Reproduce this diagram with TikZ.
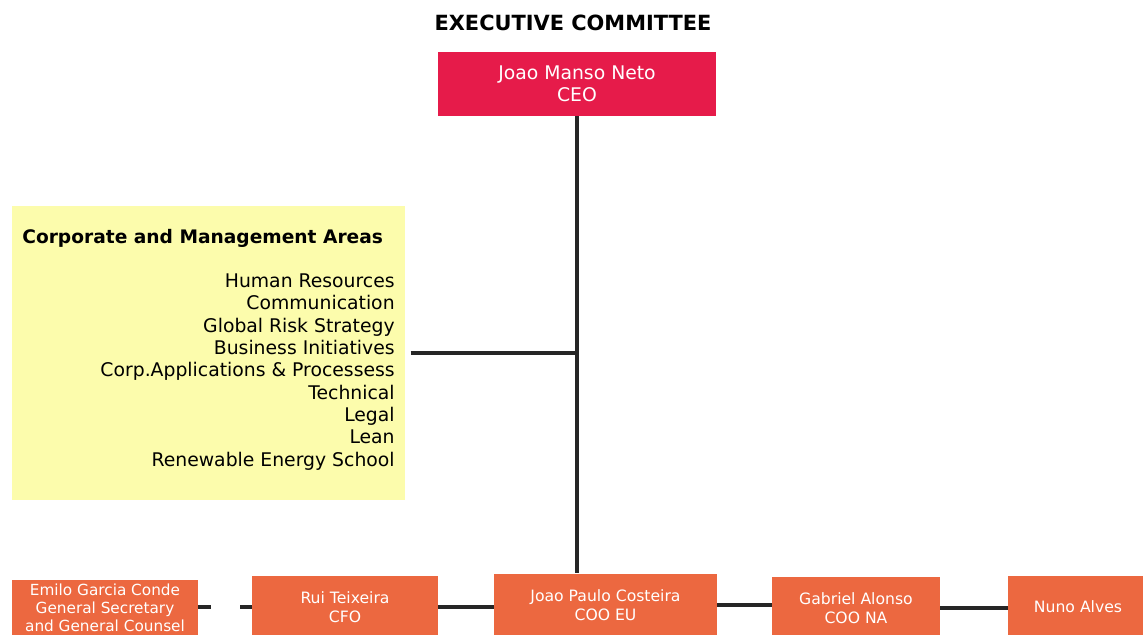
\documentclass[tikz,border=0pt]{standalone}
\usepackage{fontspec}
\setmainfont{DejaVu Sans}
\usetikzlibrary{positioning}
\definecolor{ceo-red}{RGB}{230, 27, 74}
\definecolor{board-orange}{RGB}{236, 104, 64}
\definecolor{area-yellow}{RGB}{252, 252, 172}

\tikzset{
  ceobox/.style={fill=ceo-red, text=white, align=center, inner sep=0pt,
    minimum width=5.56cm, minimum height=1.28cm, font=\fontsize{10.7}{12.5}\selectfont},
  officer/.style={fill=board-orange, text=white, align=center, inner sep=0pt,
    minimum height=1.26cm, font=\fontsize{8.9}{10.6}\selectfont},
  link/.style={line width=2pt, draw=black!85}
}

\begin{document}
\begin{tikzpicture}[x=0.02cm, y=-0.02cm]
                \useasboundingbox (0, 0) rectangle (1143, 635);
                \clip (0, 0) rectangle (1143, 635);
                \node[font=\bfseries\fontsize{11.9}{14}\selectfont] (title) at (573, 23) {EXECUTIVE COMMITTEE};
                \node[ceobox] (ceo) at (577, 84) {Joao Manso Neto\\CEO};
                % corporate areas panel
                \node[fill=area-yellow, minimum width=7.86cm, minimum height=5.88cm, inner sep=0pt] (areas) at (208.5, 353) {};
                \node[anchor=west, inner sep=0pt, font=\bfseries\fontsize{10.6}{12}\selectfont] (areastitle) at (22, 238) {Corporate and Management Areas};
                \node[anchor=east, align=right, inner sep=0pt, font=\fontsize{10.7}{12.7}\selectfont] (arealist) at (395, 372)
                  {Human Resources\\Communication\\Global Risk Strategy\\Business Initiatives\\Corp.Applications \& Processess\\Technical\\Legal\\Lean\\Renewable Energy School};
                % bottom row
                \node[officer, minimum width=3.72cm, minimum height=1.12cm, font=\fontsize{8.7}{10.4}\selectfont] (sec) at (105, 608) {Emilo Garcia Conde\\General Secretary\\and General Counsel};
                \node[officer, minimum width=3.72cm] (cfo) at (345, 607) {Rui Teixeira\\CFO};
                \node[officer, minimum width=4.46cm] (cooeu) at (605.5, 605) {Joao Paulo Costeira\\COO EU};
                \node[officer, minimum width=3.36cm] (coona) at (856, 608) {Gabriel Alonso\\COO NA};
                \node[officer, minimum width=2.8cm] (nuno) at (1078, 607) {Nuno Alves};
                % connectors
                \coordinate (hub) at (ceo.south |- areas.east);
                \draw[link] (ceo.south) -- (ceo.south |- cooeu.north);
                \draw[link, shorten <=3pt] (areas.east) -- (hub);
                \draw[link, dash pattern=on 0.26cm off 0.58cm] (sec.east |- cfo.west) -- (cfo.west);
                \draw[link] (cfo.east) -- (cfo.east -| cooeu.west);
                \draw[link] (cooeu.east) -- (cooeu.east -| coona.west);
                \draw[link] (coona.east) -- (coona.east -| nuno.west);
            \end{tikzpicture}
\end{document}
